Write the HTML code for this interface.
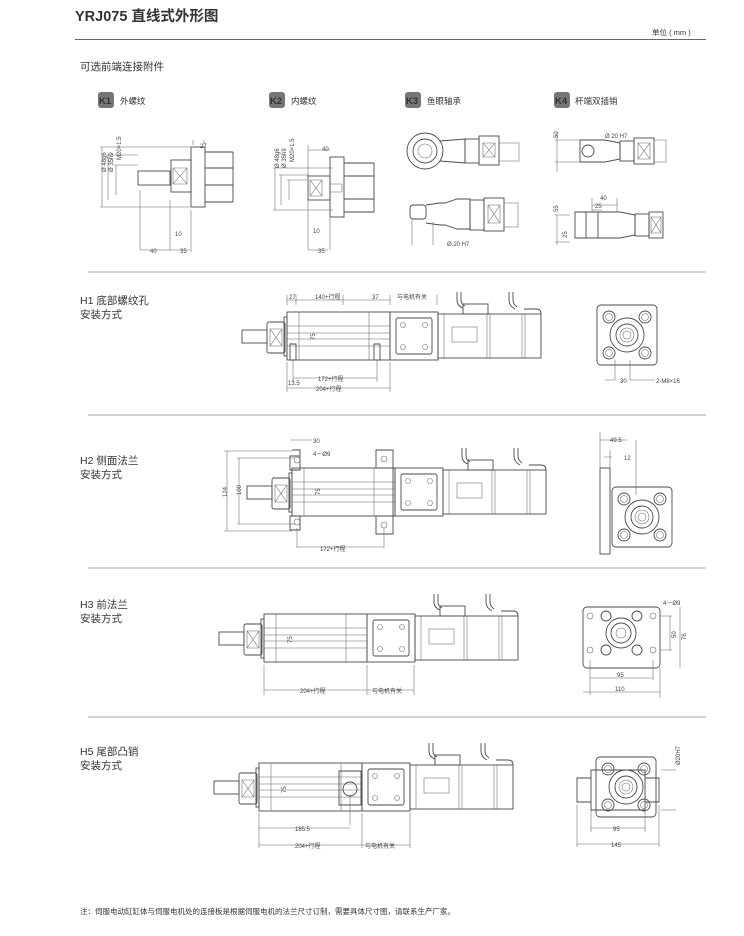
<!DOCTYPE html>
<html><head><meta charset="utf-8"><style>
html,body{margin:0;padding:0;background:#fff;}
svg{display:block;}
text{font-family:"Liberation Sans","Noto Sans CJK SC",sans-serif;fill:#333;}
.s{fill:none;stroke:#4a4a4a;stroke-width:0.9;}
.t{fill:none;stroke:#666;stroke-width:0.55;}
.d{font-size:6px;fill:#444;}
</style></head><body>
<svg width="744" height="936" viewBox="0 0 744 936" xmlns="http://www.w3.org/2000/svg">
<defs>
<g id="act">
  <rect class="s" x="-45" y="18" width="25" height="13"/>
  <rect class="s" x="-20" y="10" width="18" height="31" rx="2"/>
  <path class="t" d="M-17 17h12v17h-12zM-17 17l12 17M-5 17l-12 17"/>
  <rect class="s" x="-3" y="5" width="3" height="39"/>
  <rect class="s" x="0" y="0" width="103" height="48"/>
  <path class="t" d="M12 0v48M0 14h103M0 21h103M0 27h103M0 34h103M82 0v48"/>
  <rect class="s" x="103" y="0" width="48" height="48"/>
  <rect class="s" x="109" y="6" width="36" height="36" rx="2"/>
  <circle class="t" cx="116" cy="13" r="2.5"/><circle class="t" cx="138" cy="13" r="2.5"/>
  <circle class="t" cx="116" cy="35" r="2.5"/><circle class="t" cx="138" cy="35" r="2.5"/>
  <rect class="s" x="151" y="2" width="103" height="44"/>
  <path class="t" d="M157 2v44M200 2v44M203 2v44M235 2v44M238 2v44"/>
  <rect class="t" x="165" y="15" width="25" height="15"/>
  <rect class="s" x="176" y="-8" width="25" height="10"/>
  <path class="s" d="M170 -20v8q0 6 6 8M174 -20v8q0 4 4 6M222 -20v8q0 6 6 9M226 -20v8q0 4 4 7"/>
  <path class="s" d="M237 -3h12q5 0 5 5"/>
</g>
<g id="sq">
  <rect class="s" x="0" y="0" width="60" height="60" rx="4"/>
  <circle class="s" cx="12" cy="12" r="6"/><circle class="t" cx="12" cy="12" r="3.5"/>
  <circle class="s" cx="48" cy="12" r="6"/><circle class="t" cx="48" cy="12" r="3.5"/>
  <circle class="s" cx="12" cy="48" r="6"/><circle class="t" cx="12" cy="48" r="3.5"/>
  <circle class="s" cx="48" cy="48" r="6"/><circle class="t" cx="48" cy="48" r="3.5"/>
  <circle class="s" cx="30" cy="30" r="17"/><circle class="s" cx="30" cy="30" r="11"/><circle class="t" cx="30" cy="30" r="7"/><circle class="t" cx="30" cy="30" r="4"/>
</g>
</defs>

<text x="75" y="21" font-size="14.5" font-weight="bold" fill="#222">YRJ075 直线式外形图</text>
<text x="652" y="35" font-size="7.5" fill="#444">单位 ( mm )</text>
<line x1="75" y1="39.5" x2="706" y2="39.5" stroke="#666" stroke-width="1"/>
<text x="80" y="70" font-size="10.5" fill="#333">可选前端连接附件</text>

<g font-size="8.5">
<rect x="98" y="92" width="16" height="16" rx="3" fill="#777"/><text x="99" y="104" font-size="9.5" font-weight="bold" fill="#fff">K1</text><text x="120" y="104">外螺纹</text>
<rect x="269" y="92" width="16" height="16" rx="3" fill="#777"/><text x="270" y="104" font-size="9.5" font-weight="bold" fill="#fff">K2</text><text x="291" y="104">内螺纹</text>
<rect x="405" y="92" width="16" height="16" rx="3" fill="#777"/><text x="406" y="104" font-size="9.5" font-weight="bold" fill="#fff">K3</text><text x="427" y="104">鱼眼轴承</text>
<rect x="554" y="92" width="16" height="16" rx="3" fill="#777"/><text x="555" y="104" font-size="9.5" font-weight="bold" fill="#fff">K4</text><text x="575" y="104">杆端双插销</text>
</g>

<g>
<rect class="s" x="191" y="147" width="14" height="60"/>
<path class="s" d="M205 152h28M205 202h28M205 168h28M205 185h28M233 152v50"/>
<rect class="s" x="171" y="160" width="20" height="32"/>
<path class="t" d="M173 168h14v16h-14zM173 168l14 16M187 168l-14 16"/>
<rect class="s" x="138" y="171" width="32" height="14"/>
<path class="t" d="M102 147v60M108 155v45M116 165v30M100 147h90M106 155h32M114 165h24M100 207h90"/>
<path class="t" d="M193 145v-5M204 145v-5M170 200v50M191 210v42M140 190v60M140 250h30M170 250h20"/>
<text class="d" x="200" y="148">27</text><text class="d" x="175" y="236">10</text><text class="d" x="150" y="253">40</text><text class="d" x="180" y="253">35</text>
<text class="d" transform="translate(106,172) rotate(-90)">Ø 48g6</text><text class="d" transform="translate(113,172) rotate(-90)">Ø 35h9</text><text class="d" transform="translate(121,160) rotate(-90)">M20×1.5</text>
</g>

<g>
<rect class="s" x="330" y="157" width="14" height="60"/>
<path class="s" d="M344 163h30M344 212h30M344 176h30M344 199h30M374 163v49"/>
<rect class="s" x="308" y="176" width="22" height="24"/>
<path class="t" d="M310 180h12v16h-12zM310 180l12 16M322 180l-12 16M330 184h12v8h-12"/>
<path class="t" d="M275 168v42M281 175v30M289 180v20M273 168h60M279 175h30M287 180h20M273 210h60M308 145v105M330 150h-22M330 218v32M308 250h20"/>
<text class="d" x="322" y="151">40</text><text class="d" x="313" y="233">10</text><text class="d" x="318" y="253">35</text>
<text class="d" transform="translate(279,168) rotate(-90)">Ø 48g6</text><text class="d" transform="translate(286,168) rotate(-90)">Ø 35h9</text><text class="d" transform="translate(294,162) rotate(-90)">M20×1.5</text>
</g>

<g>
<circle class="s" cx="425" cy="151" r="18"/><circle class="s" cx="425" cy="151" r="12"/><circle class="t" cx="425" cy="151" r="7"/>
<path class="s" d="M440 141l25 -2v24l-25 -2"/>
<rect class="s" x="465" y="139" width="14" height="24"/>
<rect class="s" x="479" y="136" width="20" height="29"/>
<path class="t" d="M483 143h12v14h-12zM483 143l12 14M495 143l-12 14M499 143h20v18h-20"/>
<rect class="s" x="410" y="205" width="16" height="14" rx="3"/>
<path class="s" d="M426 205l14 -2h5l12 -4h13v30h-13l-12 -4h-5l-14 -2"/>
<rect class="s" x="470" y="200" width="14" height="30"/>
<rect class="s" x="484" y="198" width="20" height="33"/>
<path class="t" d="M488 205h12v18h-12zM488 205l12 18M500 205l-12 18M504 203h14v24h-14M412 220v25M433 222v23"/>
<text class="d" x="447" y="246">Ø 20 H7</text>
</g>

<g>
<path class="s" d="M580 140h25l15 3v16l-15 3h-25z"/><circle class="s" cx="588" cy="151" r="6"/>
<rect class="s" x="620" y="141" width="14" height="20"/><rect class="s" x="634" y="138" width="20" height="26"/>
<path class="t" d="M638 143h12v16h-12zM638 143l12 16M650 143l-12 16M654 140h12v22h-12M557 132v40M555 140h25M555 162h25"/>
<text class="d" x="605" y="138">Ø 20 H7</text><text class="d" transform="translate(558,138) rotate(-90)">50</text>
<path class="s" d="M575 212h45l15 3v20l-15 3h-45z M586 212v26M598 212v26"/>
<rect class="s" x="635" y="214" width="14" height="22"/><rect class="s" x="649" y="212" width="14" height="26"/>
<path class="t" d="M651 217h10v16h-10zM651 217l10 16M661 217l-10 16M592 198v14M617 198v14M592 205h25M592 210h10M557 215v30M555 215h15M555 242h15"/>
<text class="d" x="600" y="200">40</text><text class="d" x="595" y="208">25</text><text class="d" transform="translate(558,212) rotate(-90)">55</text><text class="d" transform="translate(567,238) rotate(-90)">25</text>
</g>

<g stroke="#888" stroke-width="0.8">
<line x1="88" y1="272" x2="706" y2="272"/><line x1="88" y1="415" x2="706" y2="415"/><line x1="88" y1="568" x2="706" y2="568"/><line x1="88" y1="717" x2="706" y2="717"/>
</g>

<g font-size="10.5" fill="#333">
<text x="80" y="304">H1  底部螺纹孔</text><text x="80" y="318">安装方式</text>
<text x="80" y="464">H2  侧面法兰</text><text x="80" y="478">安装方式</text>
<text x="80" y="608">H3  前法兰</text><text x="80" y="622">安装方式</text>
<text x="80" y="755">H5  尾部凸销</text><text x="80" y="769">安装方式</text>
</g>

<use href="#act" x="287" y="312"/>
<path class="s" d="M290 344h6v16h-6zM374 344h6v16h-6z"/>
<path class="t" d="M287 300h103M287 295v10M296 295v10M343 295v10M390 295v10M437 295v10M293 360v22M377 360v22M293 378h84M287 362v30M390 362v30M287 388h103"/>
<text class="d" x="289" y="299">27</text><text class="d" x="315" y="299">140+行程</text><text class="d" x="372" y="299">37</text><text class="d" x="397" y="299">与电机有关</text>
<text class="d" x="318" y="381">172+行程</text><text class="d" x="288" y="385">13.5</text><text class="d" x="316" y="391">204+行程</text>
<text class="d" transform="translate(315,340) rotate(-90)">75</text>
<use href="#sq" x="597" y="305"/>
<path class="t" d="M615 360v20M630 360v20M605 380h10M630 380h25"/><text class="d" x="620" y="383">30</text><text class="d" x="656" y="383">2-M8×16</text>

<use href="#act" x="292" y="468"/>
<path class="s" d="M290 456h10v14h-10zM290 516h10v14h-10zM292 450h8v6M376 450h17v18h-17zM376 516h17v18h-17zM376 468h17v48h-17"/>
<circle class="t" cx="297" cy="460" r="3"/><circle class="t" cx="297" cy="522" r="3"/><circle class="t" cx="384" cy="459" r="3"/><circle class="t" cx="384" cy="525" r="3"/>
<path class="t" d="M224 451h68M237 458h58M224 531h68M237 524h58M227 451v80M239 458v66M297 528v20M384 528v20M297 547h87M290 440h22"/>
<text class="d" x="313" y="443">30</text><text class="d" x="313" y="456">4－Ø9</text><text class="d" x="320" y="551">172+行程</text>
<text class="d" transform="translate(227,497) rotate(-90)">124</text><text class="d" transform="translate(241,495) rotate(-90)">100</text><text class="d" transform="translate(320,495) rotate(-90)">75</text>
<rect class="s" x="600" y="468" width="10" height="86"/>
<use href="#sq" x="612" y="487"/>
<path class="t" d="M600 440h27M604 457h8M600 432v36M610 450v18M636 440v55"/><text class="d" x="610" y="442">49.5</text><text class="d" x="624" y="460">12</text>

<use href="#act" x="264" y="614"/>
<path class="t" d="M264 665v30M367 665v30M414 665v30M264 690h103M367 690h47"/>
<text class="d" x="300" y="693">204+行程</text><text class="d" x="372" y="693">与电机有关</text><text class="d" transform="translate(292,643) rotate(-90)">75</text>
<rect class="s" x="583" y="607" width="77" height="61" rx="4"/>
<circle class="t" cx="590" cy="616" r="3"/><circle class="t" cx="653" cy="616" r="3"/><circle class="t" cx="590" cy="650" r="3"/><circle class="t" cx="653" cy="650" r="3"/>
<circle class="s" cx="606" cy="616" r="5"/><circle class="s" cx="637" cy="616" r="5"/><circle class="s" cx="606" cy="650" r="5"/><circle class="s" cx="637" cy="650" r="5"/>
<circle class="s" cx="621" cy="633" r="15"/><circle class="s" cx="621" cy="633" r="10"/><circle class="t" cx="621" cy="633" r="5"/>
<path class="t" d="M590 660v35M653 660v20M660 668v30M590 678h63M583 692h77M660 616h12M660 650h12M670 616v34M680 607v61"/>
<text class="d" x="617" y="677">95</text><text class="d" x="615" y="691">110</text><text class="d" x="663" y="605">4－Ø9</text>
<text class="d" transform="translate(676,638) rotate(-90)">50</text><text class="d" transform="translate(686,640) rotate(-90)">76</text>

<use href="#act" x="259" y="763"/>
<path class="s" d="M339 771h22v34h-22z"/><circle class="s" cx="350" cy="789" r="7"/>
<path class="t" d="M259 813v35M350 795v30M362 813v35M410 813v35M259 828h91M259 845h103M362 845h48"/>
<text class="d" x="295" y="831">185.5</text><text class="d" x="295" y="848">204+行程</text><text class="d" x="365" y="848">与电机有关</text>
<text class="d" transform="translate(286,793) rotate(-90)">75</text>
<path class="s" d="M577 778h14v24h-14zM645 778h14v24h-14zM591 770h54v40h-54z"/>
<use href="#sq" x="596" y="757"/>
<path class="t" d="M591 810v22M645 810v22M577 805v42M659 805v42M591 828h54M577 844h82M661 770h15M661 810h15"/>
<text class="d" x="613" y="831">95</text><text class="d" x="611" y="847">145</text><text class="d" transform="translate(680,765) rotate(-90)">Ø20H7</text>

<text x="80" y="914" font-size="7.5" fill="#444">注：伺服电动缸缸体与伺服电机处的连接板是根据伺服电机的法兰尺寸订制，需要具体尺寸图，请联系生产厂家。</text>
</svg>
</body></html>
